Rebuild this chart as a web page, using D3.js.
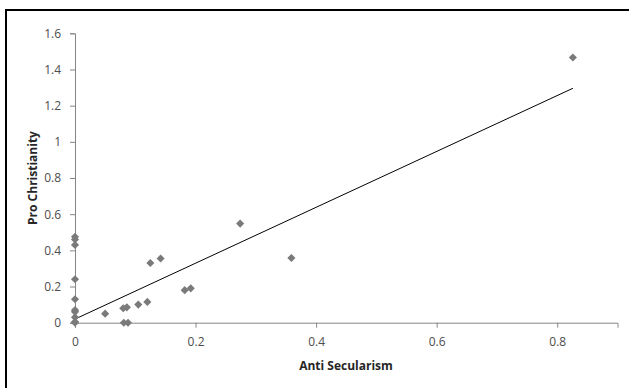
<!DOCTYPE html>
<html><head><meta charset="utf-8">
<script src="https://cdn.jsdelivr.net/npm/d3@7"></script>
<style>body{margin:0;background:#fff}svg{display:block}</style>
</head><body>
<svg id="c" width="629" height="388"></svg>
<script>
const xTicks = [0, 0.2, 0.4, 0.6, 0.8];
const yTicks = [0, 0.2, 0.4, 0.6, 0.8, 1, 1.2, 1.4, 1.6];
const xValues = [0, 0, 0, 0, 0, 0, 0, 0, 0, 0, 0.05, 0.08, 0.086, 0.081, 0.088, 0.105, 0.12, 0.125, 0.142, 0.182, 0.192, 0.274, 0.359, 0.826];
const yValues = [0.475, 0.46, 0.43, 0.24, 0.13, 0.07, 0.06, 0.03, 0.005, 0, 0.05, 0.08, 0.085, 0, 0, 0.10, 0.115, 0.33, 0.355, 0.18, 0.19, 0.548, 0.358, 1.466];
const trendX = [0, 0.826];
const trendY = [0.02, 1.296];
const xTitle = "Anti Secularism";
const yTitle = "Pro Christianity";

const svg = d3.select("#c");
const x = d3.scaleLinear().domain([0, 0.9]).range([75, 617.5]);
const y = d3.scaleLinear().domain([0, 1.6]).range([322.7, 33.3]);
const font = "'Open Sans', 'Liberation Sans', sans-serif";

// frame
svg.append("rect").attr("x", 6).attr("y", 10).attr("width", 700).attr("height", 500)
  .attr("fill", "none").attr("stroke", "#000").attr("stroke-width", 2);

const xa = svg.append("g").attr("transform", `translate(0,${y(0)})`)
  .call(d3.axisBottom(x).tickValues(xTicks).tickSize(5).tickPadding(10).tickFormat(d3.format("")));
const ya = svg.append("g").attr("transform", `translate(${x(0)},0)`)
  .call(d3.axisLeft(y).tickValues(yTicks).tickSize(5).tickPadding(9).tickFormat(d3.format("")));
[xa, ya].forEach(a => {
  a.selectAll("path.domain").attr("stroke", "#868686").attr("stroke-width", 1);
  a.selectAll("line").attr("stroke", "#868686");
  a.selectAll("text").attr("fill", "#4d4d4d").style("font-family", font).style("font-size", "12px");
});

svg.append("text").attr("x", 346).attr("y", 370).attr("text-anchor", "middle")
  .style("font-family", font).style("font-size", "12px").style("font-weight", "bold")
  .attr("fill", "#262626").text(xTitle);
svg.append("text").attr("transform", `translate(37,178) rotate(-90)`).attr("text-anchor", "middle")
  .style("font-family", font).style("font-size", "12px").style("font-weight", "bold")
  .attr("fill", "#262626").text(yTitle);

// trend line
svg.append("line").attr("x1", x(trendX[0])).attr("y1", y(trendY[0]))
  .attr("x2", x(trendX[1])).attr("y2", y(trendY[1]))
  .attr("stroke", "#000").attr("stroke-width", 1);

// points
const diamond = d3.symbol().type(d3.symbolDiamond2).size(42);
svg.append("g").selectAll("path").data(xValues.map((v, i) => [v, yValues[i]])).join("path")
  .attr("d", diamond)
  .attr("transform", d => `translate(${x(d[0])},${y(d[1])})`)
  .attr("fill", "#7a7a7a");
</script>
</body></html>
